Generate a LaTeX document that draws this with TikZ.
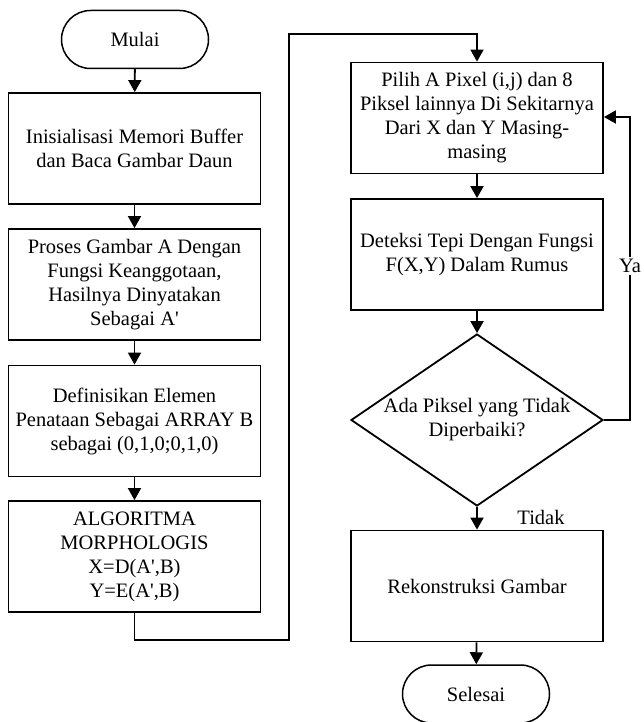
\documentclass[tikz,border=0pt]{standalone}
\usepackage{fontspec}
\setmainfont{Liberation Serif}
\usetikzlibrary{arrows.meta,shapes.geometric}
\begin{document}
\begin{tikzpicture}[x=1pt,y=1pt,
  every node/.style={font=\fontsize{20.5}{24}\selectfont},
  line/.style={line width=1.8pt},
  arr/.style={line width=1.8pt,-{Triangle[length=12pt,width=13pt]}},
  proc/.style={draw,line width=1.8pt,rectangle,minimum width=252pt,minimum height=111pt,inner sep=0pt,align=center},
  term/.style={draw,line width=1.5pt,rectangle,rounded corners=29pt,minimum width=147pt,minimum height=58pt,inner sep=0pt},
  decision/.style={draw,line width=1.8pt,diamond,aspect=1.465,inner sep=-4pt,minimum width=252pt,minimum height=172pt,align=center},
  lbl/.style={fill=white,inner sep=2pt}
]
\useasboundingbox (0,0) rectangle (643,-722);
% left column
\node[term] (start) at (135,-39.5) {Mulai};
\node[proc] (b1) at (134.5,-148.5) {Inisialisasi Memori Buffer\\dan Baca Gambar Daun};
\node[proc] (b2) at (134.5,-284.5) {Proses Gambar A Dengan\\Fungsi Keanggotaan,\\Hasilnya Dinyatakan\\Sebagai A\textquotesingle};
\node[proc] (b3) at (134.5,-421) {Definisikan Elemen\\Penataan Sebagai ARRAY B\\sebagai (0,1,0;0,1,0)};
\node[proc] (b4) at (134.5,-556.5) {ALGORITMA\\MORPHOLOGIS\\X=D(A\textquotesingle,B)\\Y=E(A\textquotesingle,B)};
% right column
\node[proc] (b5) at (477,-118) {Pilih A Pixel (i,j) dan 8\\Piksel lainnya Di Sekitarnya\\Dari X dan Y Masing-\\masing};
\node[proc] (b6) at (477,-254.5) {Deteksi Tepi Dengan Fungsi\\F(X,Y) Dalam Rumus};
\node[decision] (dec) at (477,-420) {Ada Piksel yang Tidak\\Diperbaiki?};
\node[proc] (b7) at (477,-586) {Rekonstruksi Gambar};
\node[term] (stop) at (476,-694) {Selesai};
% coordinates
\coordinate (c1) at (134.5,-640);
\coordinate (c2) at (289,-640);
\coordinate (c3) at (289,-34);
\coordinate (c4) at (477,-34);
\coordinate (y1) at (630,-420);
\coordinate (y2) at (630,-117);
\coordinate (y3) at (603,-117);
% connectors
\draw[arr] (start) -- (b1);
\draw[arr] (b1) -- (b2);
\draw[arr] (b2) -- (b3);
\draw[arr] (b3) -- (b4);
\draw[arr] (b4.south) -- (c1) -- (c2) -- (c3) -- (c4) -- (b5.north);
\draw[arr] (b5) -- (b6);
\draw[arr] (b6) -- (dec);
\draw[arr] (dec) -- (b7);
\draw[arr] (b7) -- (stop);
\draw[arr] (dec.east) -- (y1) -- (y2) -- (b5.east |- y2);
\node[lbl] (ya) at (630,-266) {Ya};
\node (tidak) at (541,-517) {Tidak};
\end{tikzpicture}
\end{document}
